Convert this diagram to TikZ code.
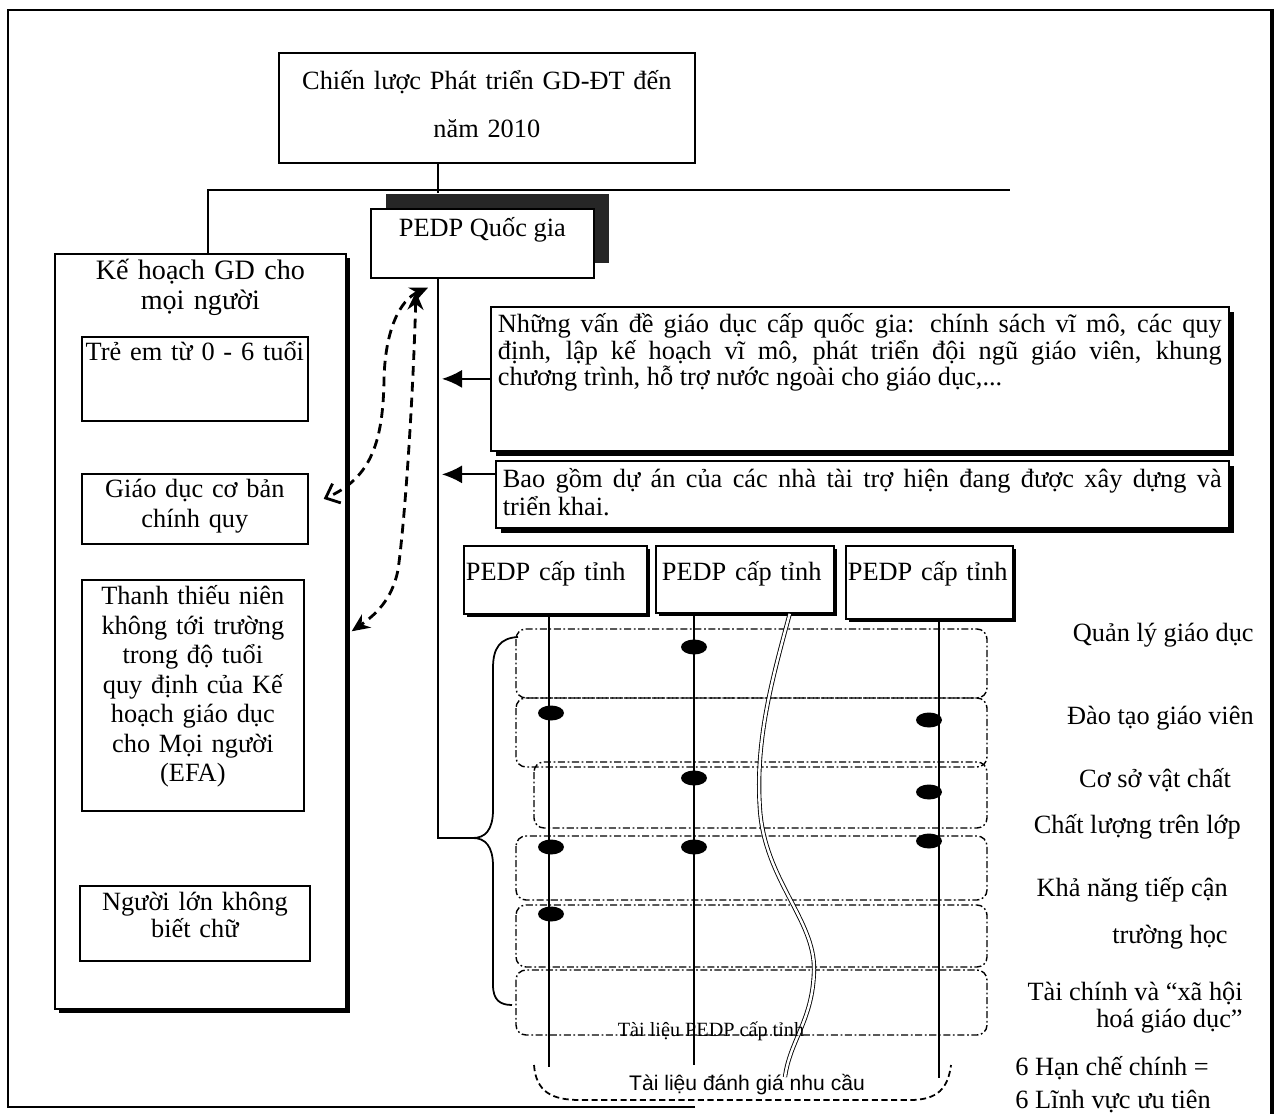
\documentclass[tikz,border=0pt]{standalone}
\usepackage{fontspec}
\setmainfont{Liberation Serif}
\setsansfont{Liberation Sans}
\usetikzlibrary{arrows.meta,shadows}
\hyphenpenalty=10000

\begin{document}
\begin{tikzpicture}[x=0.02cm, y=-0.02cm,
		box/.style={draw, line width=1pt, fill=white, anchor=north west, inner xsep=0.06cm, inner ysep=0pt, align=center, font=\fontsize{15pt}{17pt}\selectfont},
		dropsh/.style={drop shadow={shadow xshift=#1, shadow yshift=-#1, fill=black, opacity=1}},
		rowline/.style={line width=0.8pt, rounded corners=0.2cm, dash pattern=on 4pt off 1.5pt on 1pt off 1.5pt},
		dashlink/.style={line width=1.6pt, dash pattern=on 5.5pt off 3.5pt},
		lab/.style={inner sep=0pt, font=\fontsize{15pt}{17pt}\selectfont}]
	\useasboundingbox (0,0) rectangle (1277,1114);
	\draw[line width=1.2pt] (695,1107) -- (8,1107) -- (8,10) -- (1271,10);
	\draw[line width=2.5pt] (1272,9) -- (1272,1114);

	\node[box, text width=8cm, minimum width=8.32cm, text height=0.74cm, text depth=1.46cm, font=\fontsize{15pt}{27.3pt}\selectfont] (strat) at (278,52) {Chiến lược Phát triển GD-ĐT đến\\năm 2010};
	\node[box, minimum width=4.46cm, text height=0.56cm, text depth=0.82cm, drop shadow={shadow xshift=0.3cm, shadow yshift=0.3cm, fill=black!85, opacity=1}] (natl) at (370,208) {PEDP Quốc gia};

	\node[box, text width=5.6cm, minimum width=5.82cm, text height=0.52cm, text depth=14.58cm, font=\fontsize{16pt}{17pt}\selectfont, dropsh=0.08cm] (efa) at (54,253) {Kế hoạch GD cho\\mọi người};
	\node[box, text width=4.4cm, minimum width=4.52cm, text height=0.48cm, text depth=1.2cm] (kid) at (81,336) {Trẻ em từ 0 - 6 tuổi};
	\node[box, text width=4.4cm, minimum width=4.52cm, text height=0.48cm, text depth=0.92cm] (basic) at (81,473) {Giáo dục cơ bản\\chính quy};
	\node[box, text width=4.3cm, minimum width=4.44cm, text height=0.5cm, text depth=4.12cm, font=\fontsize{15pt}{16.8pt}\selectfont] (youth) at (81,579) {Thanh thiếu niên\\không tới trường\\trong độ tuổi\\quy định của Kế\\hoạch giáo dục\\cho Mọi người\\(EFA)};
	\node[box, text width=4.4cm, minimum width=4.6cm, text height=0.5cm, text depth=1cm, font=\fontsize{15pt}{15.4pt}\selectfont] (adult) at (79,885) {Người lớn không\\biết chữ};

	\node[box, align=justify, text width=14.48cm, inner xsep=0.14cm, text height=0.52cm, text depth=2.36cm, font=\fontsize{15pt}{15.1pt}\selectfont, dropsh=0.1cm] (boxA) at (490,306) {Những vấn đề giáo dục cấp quốc gia: chính sách vĩ mô, các quy\linebreak định, lập kế hoạch vĩ mô, phát triển đội ngũ giáo viên, khung\linebreak chương trình, hỗ trợ nước ngoài cho giáo dục,...};
	\node[box, align=justify, text width=14.38cm, inner xsep=0.14cm, text height=0.54cm, text depth=0.8cm, font=\fontsize{15pt}{15.9pt}\selectfont, dropsh=0.1cm] (boxB) at (495,460) {Bao gồm dự án của các nhà tài trợ hiện đang được xây dựng và\linebreak triển khai.};

	\node[box, align=left, text width=3.58cm, inner xsep=0.04cm, text height=0.7cm, text depth=0.66cm, dropsh=0.06cm] (p1) at (463,545) {PEDP cấp tỉnh};
	\node[box, align=left, text width=3.32cm, inner xsep=0.12cm, text height=0.7cm, text depth=0.64cm, dropsh=0.06cm] (p2) at (655,545) {PEDP cấp tỉnh};
	\node[box, align=left, text width=3.26cm, inner xsep=0.04cm, text height=0.7cm, text depth=0.76cm, dropsh=0.06cm] (p3) at (845,545) {PEDP cấp tỉnh};

	\node[lab, anchor=east] (ql) at (1254,635) {Quản lý giáo dục};
	\node[lab, anchor=east] (dt) at (1254,718) {Đào tạo giáo viên};
	\node[lab] (vc) at (1155,780) {Cơ sở vật chất};
	\node[lab, anchor=east] (cl) at (1241,827) {Chất lượng trên lớp};
	\node[lab, anchor=east, align=right, font=\fontsize{15pt}{26.7pt}\selectfont] (kn) at (1228,913) {Khả năng tiếp cận\\trường học};
	\node[lab, anchor=east, align=right, font=\fontsize{15pt}{15.4pt}\selectfont] (tc) at (1243,1008) {Tài chính và “xã hội\\hoá giáo dục”};
	\node[lab, anchor=west, align=left, font=\fontsize{15pt}{18.8pt}\selectfont] (hc) at (1015,1085) {6 Hạn chế chính =\\6 Lĩnh vực ưu tiên};

	\coordinate (spine) at (438,0);
	\coordinate (hl) at (208,190);
	\coordinate (hr) at (1010,190);
	\coordinate (brtip) at (473,838);
	\draw[line width=1pt, shorten >=0.3cm] (strat.south -| spine) -- (natl.north -| spine);
	\draw[line width=1pt] (efa.north -| hl) -- (hl) -- (hr);
	\draw[line width=1pt] (natl.south -| spine) -- (spine |- brtip) -- (brtip);
	\draw[line width=1pt] (brtip) .. controls (485,838) and (493,830) .. (493,810) -- (493,668) .. controls (493,648) and (500,638) .. (518,637);
	\draw[line width=1pt] (brtip) .. controls (485,838) and (493,846) .. (493,866) -- (493,985) .. controls (493,1000) and (500,1005) .. (512,1005);

	\coordinate (bB) at ([yshift=0.4cm]boxB.west);
	\draw[line width=1pt, -{Latex[length=0.4cm,width=0.36cm]}, shorten >=0.08cm] (boxA.west) -- (boxA.west -| spine);
	\draw[line width=1pt, -{Latex[length=0.4cm,width=0.36cm]}, shorten >=0.08cm] (bB) -- (bB -| spine);

	\foreach \xa/\ya/\yb in {516/629/698, 516/698/767, 534/762/828, 516/836/900, 516/905/967, 516/970/1035}{
		\draw[rowline] (\xa,\ya) rectangle (987,\yb);
	}
	\coordinate (b1) at (549,1067);
	\coordinate (b2) at (694,1065);
	\coordinate (b3) at (939,1078);
	\foreach \p/\b in {p1/b1, p2/b2, p3/b3}{
		\draw[line width=0.8pt] (\p.south -| \b) -- (\b);
	}
	\foreach \x/\y in {694/647, 551/713, 929/720, 694/778, 929/792, 551/847, 694/847, 929/841, 551/914}{
		\fill (\x,\y) ellipse [x radius=0.26cm, y radius=0.15cm];
	}
	\coordinate (w1) at (785,1077);
	\draw[double, double distance=0.05cm, line width=0.5pt] ([xshift=-0.9cm]p2.south east) .. controls (772,680) and (755,740) .. (760,810) .. controls (765,880) and (815,920) .. (814,970) .. controls (813,1020) and (790,1040) .. (w1);

	\node[lab, anchor=base, font=\fontsize{11.5pt}{12pt}\selectfont] (plan) at (711,1036) {Tài liệu PEDP cấp tỉnh};
	\node[lab, font=\sffamily\fontsize{12pt}{13pt}\selectfont] (needs) at (747,1085) {Tài liệu đánh giá nhu cầu};
	\draw[line width=1pt, dash pattern=on 3.5pt off 2pt] (534,1065) .. controls (536,1092) and (552,1100) .. (580,1100) -- (910,1100) .. controls (938,1100) and (948,1088) .. (951,1065);

	\coordinate (t1) at ([xshift=1.16cm,yshift=-0.18cm]natl.south west);
	\coordinate (t2) at ([xshift=0.92cm,yshift=-0.26cm]natl.south west);
	\coordinate (e1) at ([xshift=0.3cm,yshift=0.2cm]basic.east);
	\coordinate (e2) at ([xshift=0.1cm]efa.east);
	\draw[dashlink, {Stealth[length=0.36cm,width=0.32cm]}-{Straight Barb[length=0.24cm,width=0.42cm]}] (t1) .. controls (400,300) and (385,330) .. (384,380) .. controls (383,440) and (372,478) .. (e1);
	\draw[dashlink, {Stealth[length=0.36cm,width=0.32cm]}-{Stealth[length=0.36cm,width=0.32cm]}] (t2) .. controls (413,400) and (405,520) .. (398,570) .. controls (392,600) and (375,615) .. (e2);
\end{tikzpicture}
\end{document}
